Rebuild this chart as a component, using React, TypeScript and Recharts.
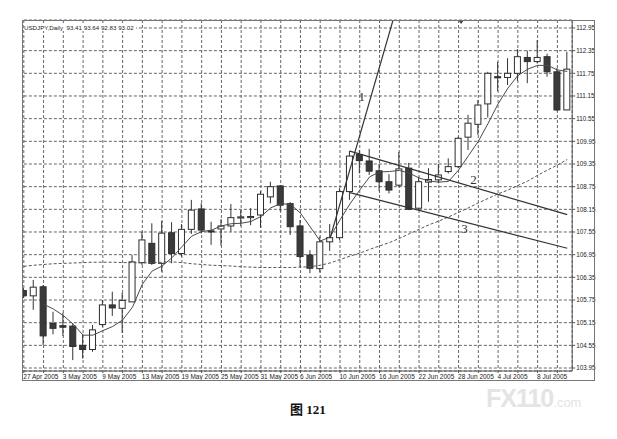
import React from 'react';
import { ComposedChart, Bar, Line, XAxis, YAxis, CartesianGrid, ReferenceDot } from 'recharts';

const DATES = [
  '27 Apr 2005', '28 Apr 2005', '29 Apr 2005', '2 May 2005', '3 May 2005', '4 May 2005', '5 May 2005', '6 May 2005',
  '9 May 2005', '10 May 2005', '11 May 2005', '12 May 2005', '13 May 2005', '16 May 2005', '17 May 2005', '18 May 2005',
  '19 May 2005', '20 May 2005', '23 May 2005', '24 May 2005', '25 May 2005', '26 May 2005', '27 May 2005', '30 May 2005',
  '31 May 2005', '1 Jun 2005', '2 Jun 2005', '3 Jun 2005', '6 Jun 2005', '7 Jun 2005', '8 Jun 2005', '9 Jun 2005',
  '10 Jun 2005', '13 Jun 2005', '14 Jun 2005', '15 Jun 2005', '16 Jun 2005', '17 Jun 2005', '20 Jun 2005', '21 Jun 2005',
  '22 Jun 2005', '23 Jun 2005', '24 Jun 2005', '27 Jun 2005', '28 Jun 2005', '29 Jun 2005', '30 Jun 2005', '1 Jul 2005',
  '4 Jul 2005', '5 Jul 2005', '6 Jul 2005', '7 Jul 2005', '8 Jul 2005', '11 Jul 2005', '12 Jul 2005', '13 Jul 2005',
];

const OPEN = [
  106.0, 105.86, 106.1, 105.13, 105.07, 105.06, 104.55, 104.44,
  105.1, 105.62, 105.53, 105.7, 106.74, 107.25, 106.72, 107.53,
  106.98, 107.62, 108.16, 107.58, 107.63, 107.71, 107.92, 107.93,
  108.0, 108.48, 108.77, 108.3, 107.71, 106.94, 106.58, 107.29,
  107.4, 108.62, 109.6, 109.43, 109.17, 108.88, 108.79, 109.24,
  108.18, 108.87, 108.93, 109.15, 109.28, 110.06, 110.4, 110.94,
  111.66, 111.64, 111.75, 112.17, 112.06, 112.19, 111.79, 110.78,
];
const HIGH = [
  106.07, 106.28, 106.15, 105.44, 105.41, 105.14, 104.85, 105.09,
  105.75, 105.97, 105.94, 106.94, 107.56, 107.78, 107.84, 107.81,
  107.76, 108.4, 108.31, 107.82, 107.89, 108.29, 108.13, 108.18,
  108.63, 108.88, 108.79, 108.34, 107.87, 107.07, 107.43, 107.76,
  108.71, 109.7, 109.72, 109.75, 109.35, 109.08, 109.67, 109.38,
  109.01, 109.24, 109.35, 109.5, 110.07, 110.65, 111.04, 111.79,
  112.05, 112.15, 112.39, 112.35, 112.63, 112.27, 111.89, 112.32,
];
const LOW = [
  105.8, 105.49, 104.56, 104.84, 104.8, 104.16, 104.2, 104.38,
  105.04, 105.33, 104.88, 105.7, 106.68, 106.68, 106.5, 106.72,
  106.9, 107.5, 107.51, 107.21, 107.19, 107.56, 107.71, 107.73,
  107.66, 108.31, 108.09, 107.47, 106.62, 106.46, 106.48, 107.05,
  107.34, 108.4, 109.1, 109.06, 108.63, 108.57, 108.74, 108.13,
  108.13, 108.35, 108.84, 109.1, 109.24, 109.72, 110.12, 110.58,
  111.28, 111.44, 111.55, 111.49, 112.01, 111.66, 110.75, 110.78,
];
const CLOSE = [
  105.86, 106.09, 104.8, 105.0, 105.03, 104.52, 104.44, 104.96,
  105.62, 105.54, 105.74, 106.76, 107.34, 106.72, 107.52, 106.98,
  107.62, 108.13, 107.6, 107.55, 107.71, 107.93, 107.95, 107.96,
  108.55, 108.75, 108.26, 107.69, 106.9, 106.59, 107.29, 107.4,
  108.62, 109.56, 109.44, 109.16, 108.88, 108.66, 109.22, 108.15,
  108.88, 108.94, 109.06, 109.28, 110.03, 110.43, 110.91, 111.75,
  111.63, 111.75, 112.19, 112.06, 112.17, 111.79, 110.78, 111.86,
];

const MA_FAST = [
  null, null, 105.64, 105.51, 105.34, 105.11, 104.82, 104.82,
  104.94, 105.05, 105.22, 105.56, 106.17, 106.52, 106.65, 106.87,
  107.16, 107.44, 107.56, 107.6, 107.71, 107.77, 107.78, 107.83,
  107.96, 108.19, 108.3, 108.28, 108.05, 107.68, 107.31, 107.42,
  107.87, 108.29, 108.66, 109.01, 109.14, 109.15, 109.18, 109.11,
  108.98, 108.9, 108.87, 108.89, 109.19, 109.57, 109.95, 110.43,
  110.94, 111.36, 111.69, 111.86, 111.96, 111.96, 111.84, 111.8,
];
const MA_SLOW = [
  106.64, 106.67, 106.69, 106.71, 106.72, 106.73, 106.74, 106.75,
  106.75, 106.75, 106.74, 106.74, 106.73, 106.74, 106.75, 106.76,
  106.74, 106.71, 106.69, 106.67, 106.66, 106.65, 106.63, 106.62,
  106.61, 106.61, 106.61, 106.61, 106.62, 106.63, 106.67, 106.73,
  106.82, 106.91, 106.99, 107.09, 107.18, 107.27, 107.38, 107.5,
  107.62, 107.74, 107.84, 107.95, 108.07, 108.19, 108.32, 108.44,
  108.56, 108.66, 108.78, 108.9, 109.05, 109.19, 109.32, 109.47,
];

// trend lines: [bar index, price]
const TREND_1 = [[31, 107.39], [38, 113.73]];
const TREND_2 = [[33, 109.69], [55, 108.01]];
const TREND_3 = [[33, 108.59], [55, 107.12]];

const LINE_LABELS = [
  { text: '1', bar: 34, price: 111.13, dx: 2 },
  { text: '2', bar: 45, price: 108.93, dx: 5 },
  { text: '3', bar: 45, price: 107.65, dx: -4 },
];

const Y_TICKS = [
  103.95, 104.55, 105.15, 105.75, 106.35, 106.95, 107.55, 108.15,
  108.75, 109.35, 109.95, 110.55, 111.15, 111.75, 112.35, 112.95,
];
const Y_DOMAIN = [103.871, 113.161];

const pick = (pts: number[][], i: number) => {
  const p = pts.find((q) => q[0] === i);
  return p ? p[1] : null;
};

const rows = DATES.map((date, i) => ({
  date,
  open: OPEN[i],
  high: HIGH[i],
  low: LOW[i],
  close: CLOSE[i],
  range: [LOW[i], HIGH[i]],
  maFast: MA_FAST[i],
  maSlow: MA_SLOW[i],
  t1: pick(TREND_1, i),
  t2: pick(TREND_2, i),
  t3: pick(TREND_3, i),
}));

const Candle = (props: any) => {
  const { x, y, width, height, payload } = props;
  if (!payload || x == null) return <g />;
  const { open, close, high, low } = payload;
  const top = Math.min(y, y + height);
  const h = Math.abs(height);
  const k = h / (high - low);
  const py = (p: number) => top + (high - p) * k;
  const cx = x + width / 2;
  const bodyTop = py(Math.max(open, close));
  const bodyBot = py(Math.min(open, close));
  const up = close >= open;
  return (
    <g>
      <line x1={cx} x2={cx} y1={top} y2={top + h} stroke="#333" strokeWidth={1} />
      <rect
        x={x + 0.5}
        y={bodyTop}
        width={width - 1}
        height={Math.max(bodyBot - bodyTop, 1)}
        fill={up ? '#ffffff' : '#3a3a3a'}
        stroke="#2e2e2e"
        strokeWidth={1}
      />
    </g>
  );
};

const XTick = (props: any) => {
  const { x, y, payload } = props;
  const idx = DATES.indexOf(payload.value);
  if (idx % 4 !== 0) return <g />;
  return (
    <text x={x - 0.5} y={y + 5} fontSize={6.5} fill="#222" textAnchor="start" fontFamily="'Liberation Sans', Arial, sans-serif">
      {payload.value}
    </text>
  );
};

const YTick = (props: any) => {
  const { x, y, payload } = props;
  return (
    <text x={x} y={y + 2.2} fontSize={6.3} fill="#222" textAnchor="start" fontFamily="'Liberation Sans', Arial, sans-serif">
      {Number(payload.value).toFixed(2)}
    </text>
  );
};

export default function App() {
  return (
    <div style={{ position: 'absolute', left: 0, top: 0, width: 617, height: 439, background: '#fff', overflow: 'hidden' }}>
      <ComposedChart
        width={617}
        height={439}
        data={rows}
        margin={{ top: 20, left: 18.86, right: 14.8, bottom: 54 }}
      >
        <CartesianGrid stroke="#555" strokeDasharray="3 2" strokeWidth={0.9} />
        <XAxis
          dataKey="date"
          interval={1}
          tick={<XTick />}
          tickSize={2}
          tickMargin={1}
          height={14}
          axisLine={{ stroke: '#555' }}
          tickLine={{ stroke: '#555' }}
        />
        <YAxis
          orientation="right"
          domain={Y_DOMAIN}
          allowDataOverflow
          ticks={Y_TICKS}
          interval={0}
          width={30}
          tickSize={3}
          tickMargin={1}
          tick={<YTick />}
          axisLine={{ stroke: '#555' }}
          tickLine={{ stroke: '#555' }}
        />
        <Line dataKey="maSlow" stroke="#555" strokeWidth={1} strokeDasharray="3 2" dot={false} isAnimationActive={false} type="linear" />
        <Bar dataKey="range" barSize={7} shape={<Candle />} isAnimationActive={false} />
        <Line dataKey="maFast" stroke="#4a4a4a" strokeWidth={1} dot={false} isAnimationActive={false} type="linear" connectNulls />
        <Line dataKey="t1" stroke="#333" strokeWidth={1.2} dot={false} isAnimationActive={false} type="linear" connectNulls />
        <Line dataKey="t2" stroke="#333" strokeWidth={1.2} dot={false} isAnimationActive={false} type="linear" connectNulls />
        <Line dataKey="t3" stroke="#333" strokeWidth={1.2} dot={false} isAnimationActive={false} type="linear" connectNulls />
        {LINE_LABELS.map((l) => (
          <ReferenceDot
            key={l.text}
            x={DATES[l.bar]}
            y={l.price}
            r={0}
            shape={(p: any) => (
              <text x={p.cx + l.dx} y={p.cy + 4.5} fontSize={13} fill="#333" textAnchor="middle" fontFamily="'Liberation Serif', 'Times New Roman', serif">
                {l.text}
              </text>
            )}
          />
        ))}
        <ReferenceDot
          x={DATES[44]}
          y={113.12}
          r={0}
          shape={(p: any) => (
            <path d={`M${p.cx - 0.5},${p.cy - 1.5} L${p.cx + 5.5},${p.cy - 1.5} L${p.cx + 2.5},${p.cy + 2.5} Z`} fill="#444" />
          )}
        />
      </ComposedChart>
      {/* mask left of frame */}
      <div style={{ position: 'absolute', left: 0, top: 14, width: 22, height: 372, background: '#fff' }} />
      {/* frame */}
      <div style={{ position: 'absolute', left: 22, top: 20, width: 573, height: 361, border: '1px solid #777', boxSizing: 'border-box', pointerEvents: 'none' }} />
      <div
        style={{
          position: 'absolute', left: 24, top: 23.5, height: 7, lineHeight: '7px', fontSize: 6.2,
          fontFamily: "'Liberation Sans', Arial, sans-serif", color: '#222', background: '#fff', paddingRight: 2, whiteSpace: 'pre',
        }}
      >
        USDJPY,Daily  93.41 93.64 92.83 93.02
      </div>
      <div
        style={{
          position: 'absolute', left: 268, top: 399, width: 80, textAlign: 'center', fontSize: 13, fontWeight: 'bold',
          fontFamily: "'Liberation Serif', 'Noto Sans CJK SC', serif", color: '#111',
        }}
      >
        图 121
      </div>
      <div
        style={{
          position: 'absolute', left: 486, top: 384, whiteSpace: 'nowrap', color: '#e4e4e4',
          fontFamily: "'Liberation Sans', Arial, sans-serif", fontWeight: 'bold',
        }}
      >
        <span style={{ fontSize: 25, letterSpacing: -1 }}>FX110</span>
        <span style={{ fontSize: 13, fontWeight: 'normal' }}>.com</span>
      </div>
    </div>
  );
}
